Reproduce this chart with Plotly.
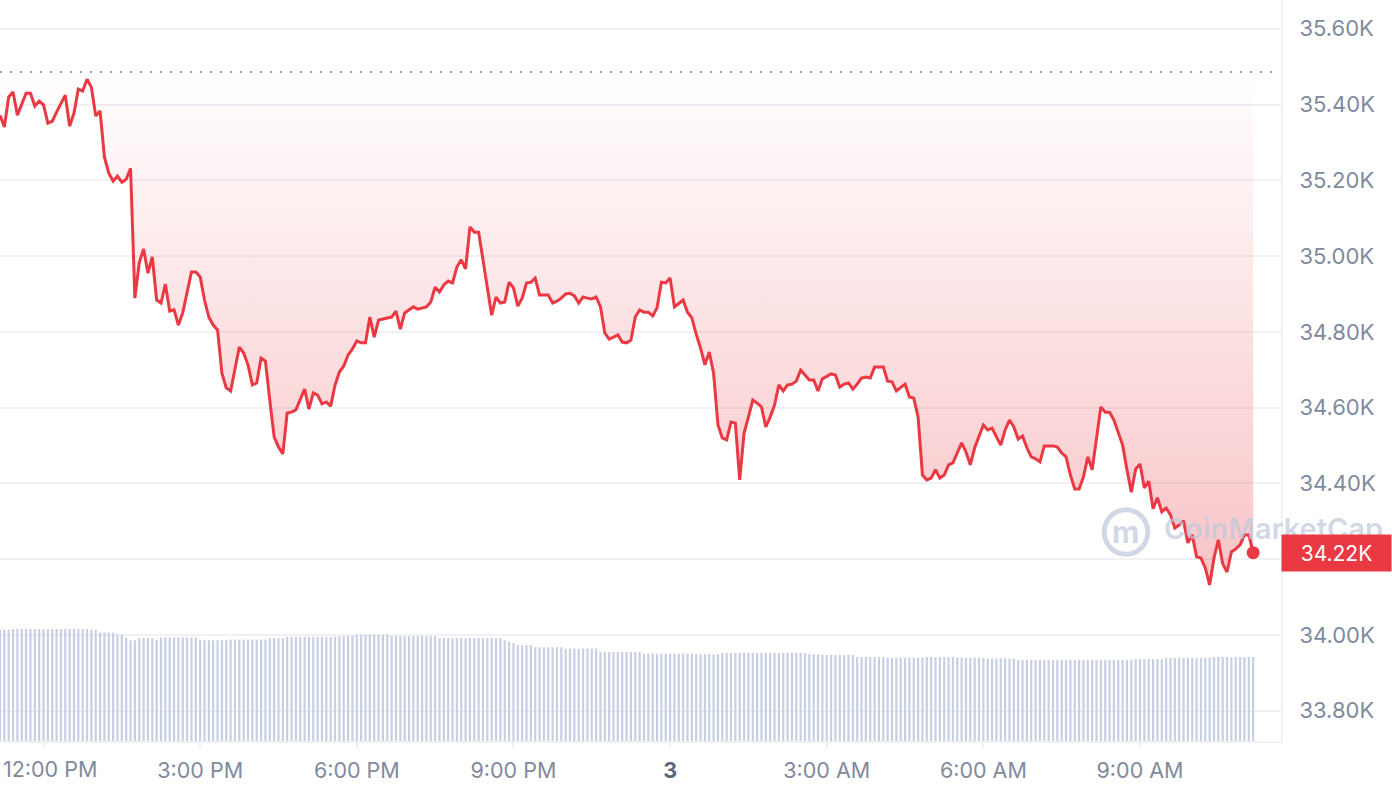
import pandas as pd
import plotly.graph_objects as go

# BTC price, 5 minute steps from 11:10 on 2 Nov 2023
start = "2023-11-02 11:10"
prices = [
    35372, 35341, 35420, 35433, 35372, 35401, 35430, 35430, 35396, 35409, 35399, 35351,
    35356, 35380, 35404, 35425, 35343, 35377, 35441, 35436, 35467, 35446, 35370, 35383,
    35261, 35219, 35198, 35211, 35195, 35203, 35232, 34889, 34982, 35019, 34955, 34998,
    34884, 34876, 34926, 34855, 34858, 34818, 34850, 34902, 34958, 34958, 34945, 34884,
    34839, 34818, 34805, 34691, 34652, 34644, 34702, 34760, 34744, 34713, 34660, 34665,
    34731, 34723, 34620, 34523, 34496, 34478, 34586, 34588, 34594, 34620, 34649, 34596,
    34639, 34633, 34610, 34615, 34604, 34660, 34694, 34710, 34739, 34755, 34776, 34771,
    34771, 34839, 34786, 34831, 34834, 34837, 34839, 34855, 34807, 34850, 34858, 34866,
    34860, 34863, 34866, 34879, 34918, 34905, 34924, 34934, 34929, 34971, 34990, 34966,
    35077, 35063, 35063, 34990, 34918, 34844, 34892, 34876, 34879, 34931, 34916, 34868,
    34889, 34929, 34931, 34942, 34897, 34897, 34897, 34876, 34881, 34889, 34900, 34902,
    34895, 34876, 34892, 34889, 34887, 34892, 34866, 34797, 34781, 34786, 34792, 34773,
    34771, 34778, 34839, 34858, 34852, 34852, 34842, 34863, 34931, 34929, 34942, 34866,
    34876, 34884, 34852, 34837, 34794, 34757, 34713, 34747, 34691, 34554, 34520, 34515,
    34562, 34559, 34409, 34533, 34575, 34620, 34612, 34602, 34549, 34575, 34607, 34660,
    34644, 34660, 34662, 34670, 34699, 34686, 34673, 34673, 34644, 34676, 34683, 34689,
    34686, 34654, 34662, 34665, 34649, 34662, 34678, 34681, 34678, 34707, 34707, 34707,
    34670, 34668, 34644, 34652, 34662, 34628, 34625, 34575, 34422, 34409, 34414, 34436,
    34414, 34422, 34449, 34454, 34480, 34507, 34483, 34449, 34494, 34523, 34554, 34541,
    34546, 34523, 34501, 34541, 34567, 34549, 34517, 34525, 34494, 34470, 34465, 34457,
    34499, 34499, 34499, 34496, 34480, 34470, 34422, 34385, 34385, 34417, 34470, 34436,
    34523, 34602, 34588, 34588, 34567, 34536, 34501, 34436, 34377, 34438, 34451, 34388,
    34406, 34333, 34362, 34325, 34335, 34317, 34282, 34290, 34301, 34243, 34264, 34206,
    34203, 34177, 34132, 34203, 34251, 34188, 34166, 34219, 34227, 34238, 34264, 34264,
    34217,
]

# 24h volume (billion USD) for the bars at the bottom
volumes = [
    15.9, 15.9, 15.9, 16.0, 16.0, 16.0, 16.0, 16.0, 16.0, 16.0, 16.0, 16.0,
    16.0, 16.0, 16.0, 16.0, 16.0, 16.0, 16.0, 16.0, 16.0, 15.9, 15.9, 15.5,
    15.5, 15.5, 15.5, 15.2, 15.2, 14.7, 14.4, 14.4, 14.7, 14.7, 14.7, 14.7,
    14.5, 14.8, 14.8, 14.8, 14.8, 14.8, 14.8, 14.8, 14.8, 14.8, 14.5, 14.4,
    14.4, 14.4, 14.4, 14.4, 14.4, 14.5, 14.5, 14.5, 14.5, 14.5, 14.5, 14.5,
    14.5, 14.5, 14.7, 14.7, 14.7, 14.7, 14.9, 14.9, 14.9, 14.9, 14.9, 14.9,
    14.9, 14.9, 14.9, 14.9, 14.9, 14.9, 15.0, 15.0, 15.0, 15.0, 15.2, 15.2,
    15.2, 15.2, 15.2, 15.2, 15.2, 15.2, 15.0, 15.0, 15.0, 15.0, 15.0, 15.0,
    15.0, 15.0, 15.0, 15.0, 15.0, 14.7, 14.7, 14.7, 14.7, 14.7, 14.7, 14.7,
    14.7, 14.7, 14.7, 14.7, 14.7, 14.7, 14.7, 14.7, 14.4, 14.2, 14.0, 13.7,
    13.7, 13.7, 13.7, 13.4, 13.4, 13.4, 13.4, 13.4, 13.4, 13.4, 13.2, 13.2,
    13.2, 13.2, 13.2, 13.2, 13.2, 13.2, 12.7, 12.7, 12.7, 12.7, 12.7, 12.7,
    12.7, 12.7, 12.7, 12.7, 12.5, 12.5, 12.5, 12.5, 12.5, 12.5, 12.5, 12.5,
    12.5, 12.5, 12.5, 12.5, 12.5, 12.4, 12.4, 12.4, 12.4, 12.4, 12.6, 12.6,
    12.6, 12.6, 12.6, 12.6, 12.6, 12.6, 12.6, 12.6, 12.6, 12.6, 12.6, 12.6,
    12.6, 12.6, 12.6, 12.6, 12.6, 12.6, 12.4, 12.4, 12.4, 12.3, 12.3, 12.3,
    12.3, 12.3, 12.3, 12.3, 12.3, 12.0, 12.0, 12.0, 12.0, 12.0, 12.0, 12.0,
    11.9, 11.9, 11.9, 11.9, 11.9, 11.9, 11.9, 11.9, 11.9, 12.0, 12.0, 12.0,
    12.0, 12.0, 12.0, 12.0, 11.9, 11.9, 11.9, 11.9, 11.9, 11.9, 11.9, 11.8,
    11.8, 11.8, 11.8, 11.8, 11.8, 11.8, 11.6, 11.6, 11.6, 11.6, 11.6, 11.6,
    11.6, 11.6, 11.6, 11.6, 11.6, 11.6, 11.6, 11.6, 11.6, 11.6, 11.6, 11.6,
    11.6, 11.6, 11.6, 11.6, 11.6, 11.6, 11.6, 11.6, 11.6, 11.7, 11.7, 11.7,
    11.7, 11.7, 11.7, 11.7, 11.9, 11.9, 11.9, 11.9, 11.9, 11.9, 11.9, 11.9,
    11.9, 11.9, 11.9, 12.0, 12.0, 12.0, 12.0, 12.0, 12.0, 12.0, 12.0, 12.0,
    12.0,
]

open_price = 35486  # dotted reference level

y_ticks = [33800, 34000, 34200, 34400, 34600, 34800, 35000, 35200, 35400, 35600]
y_labels = ["33.80K", "34.00K", "34.20K", "34.40K", "34.60K",
            "34.80K", "35.00K", "35.20K", "35.40K", "35.60K"]

x_ticks = ["2023-11-02 12:00", "2023-11-02 15:00", "2023-11-02 18:00", "2023-11-02 21:00",
           "2023-11-03 00:00", "2023-11-03 03:00", "2023-11-03 06:00", "2023-11-03 09:00"]
x_labels = ["12:00 PM", "3:00 PM", "6:00 PM", "9:00 PM",
            '<span style="color:#58667e"><b>3</b></span>', "3:00 AM", "6:00 AM", "9:00 AM"]

RED = "#ea3943"
GREY = "#808a9d"
GRID = "#eff1f4"
MARK = "rgba(190,199,218,0.7)"

times = pd.date_range(start, periods=len(prices), freq="5min")

fig = go.Figure()

fig.add_trace(go.Bar(x=times, y=volumes, yaxis="y2", width=150000,
                     marker=dict(color="#c7cfe1", line_width=0), hoverinfo="skip"))

# invisible baseline so the red area fills between it and the price
fig.add_trace(go.Scatter(x=times, y=[open_price] * len(times), mode="lines",
                         line=dict(width=0, color="rgba(0,0,0,0)"), hoverinfo="skip"))

fig.add_trace(go.Scatter(
    x=times, y=prices, mode="lines",
    line=dict(color=RED, width=3),
    fill="tonexty",
    fillgradient=dict(type="vertical",
                      colorscale=[[0, "rgba(234,57,67,0.30)"], [1, "rgba(234,57,67,0)"]],
                      start=min(prices), stop=open_price),
))

fig.add_trace(go.Scatter(x=[times[-1]], y=[prices[-1]], mode="markers",
                         marker=dict(color=RED, size=13)))

fig.add_shape(type="line", xref="paper", x0=0, x1=0.993, yref="y",
              y0=open_price, y1=open_price,
              line=dict(color="#9aa1b0", width=2, dash="2px,8px"))

# CoinMarketCap watermark
fig.add_shape(type="circle", xref="paper", yref="paper",
              x0=0.862, x1=0.896, y0=0.252, y1=0.312,
              line=dict(color=MARK, width=5))
fig.add_annotation(xref="paper", yref="paper", x=0.879, y=0.282,
                   xanchor="center", yanchor="middle", text="<b>m</b>",
                   showarrow=False, font=dict(size=30, color=MARK, family="Inter"))
fig.add_annotation(xref="paper", yref="paper", x=0.907, y=0.287,
                   xanchor="left", yanchor="middle",
                   text="CoinMarketCap", showarrow=False,
                   font=dict(size=29, color=MARK, family="Inter", weight=600))

# last price tag
fig.add_annotation(xref="paper", x=1, xanchor="left", yref="y", y=prices[-1],
                   yanchor="middle",
                   text=f"{prices[-1] / 1000:.2f}K", showarrow=False,
                   bgcolor=RED, font=dict(color="white", size=21, family="Inter"),
                   width=101, height=28, borderpad=4)

# first time label sits against the left edge, so it is nudged right
fig.add_annotation(xref="x", x=x_ticks[0], yref="paper", y=0, yanchor="middle",
                   xanchor="center", xshift=6, yshift=-28, showarrow=False,
                   text=x_labels[0], font=dict(size=21.5, color=GREY, family="Inter"))

fig.update_layout(
    width=1392, height=792,
    margin=dict(l=0, r=111, t=0, b=51),
    plot_bgcolor="white", paper_bgcolor="white",
    showlegend=False,
    font=dict(family="Inter", color=GREY, size=22),
    xaxis=dict(range=["2023-11-02 11:10", "2023-11-03 11:42"],
               tickvals=x_ticks, ticktext=[""] + x_labels[1:],
               tickfont=dict(size=21.5),
               showgrid=False, zeroline=False, automargin=False,
               showline=True, linecolor=GRID, linewidth=2,
               ticks="outside", ticklen=6, tickwidth=2, tickcolor=GRID,
               ticklabelstandoff=3),
    yaxis=dict(range=[33720, 35676], side="right",
               tickvals=y_ticks, ticktext=y_labels, automargin=False,
               gridcolor=GRID, gridwidth=1.5, zeroline=False,
               showline=True, linecolor=GRID, linewidth=2,
               ticks="", ticklabelstandoff=12),
    yaxis2=dict(range=[0, 105.9], overlaying="y", visible=False),
)

fig.write_html("out.html", config={"displayModeBar": False},
               post_script="document.body.style.margin='0';")
